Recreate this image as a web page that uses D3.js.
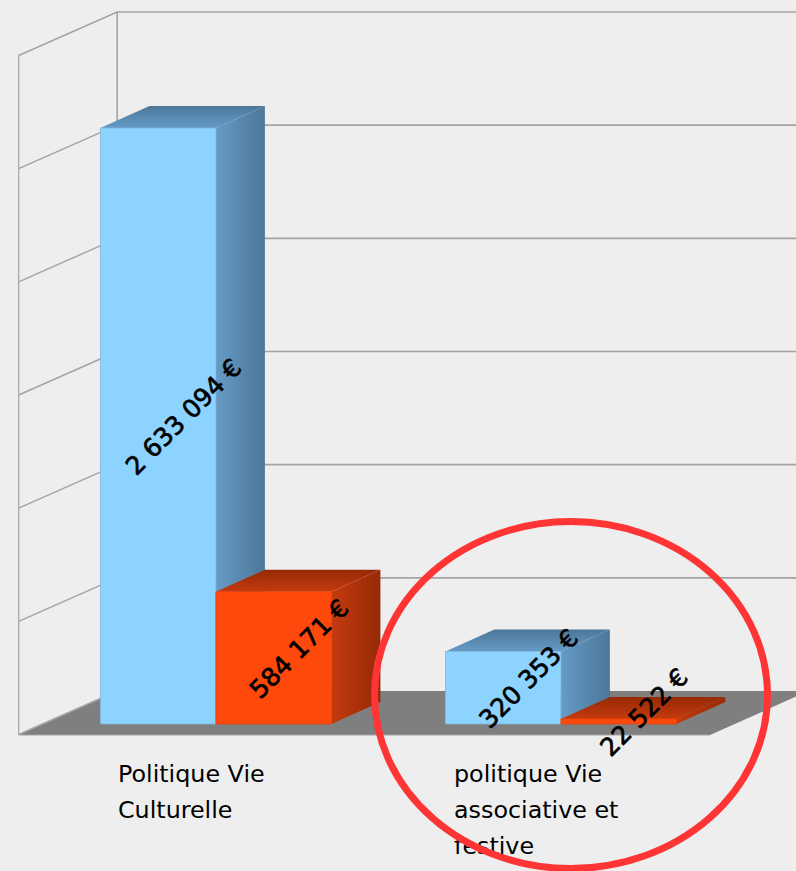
<!DOCTYPE html>
<html><head><meta charset="utf-8">
<script src="https://cdnjs.cloudflare.com/ajax/libs/d3/7.8.5/d3.min.js"></script>
<style>html,body{margin:0;padding:0;background:#eeeeee;overflow:hidden}svg{display:block}</style>
</head><body>
<svg id="c" width="796" height="871"></svg>
<script>
const categories = ["Politique Vie Culturelle", "politique Vie associative et festive"];
const categoryLines = [["Politique Vie", "Culturelle"], ["politique Vie", "associative et", "festive"]];
const seriesNames = ["s1", "s2"];
const series1 = [2633094, 320353];
const series2 = [584171, 22522];
const valueLabels = [["2 633 094 €", "584 171 €"], ["320 353 €", "22 522 €"]];
const gridTicks = [0, 500000, 1000000, 1500000, 2000000, 2500000, 3000000];

const W = 796, H = 871;
const svg = d3.select("#c");
const defs = svg.append("defs");
function grad(id, x2, y2, a, b) {
  const g = defs.append("linearGradient").attr("id", id).attr("x1", 0).attr("y1", 0).attr("x2", x2).attr("y2", y2);
  g.append("stop").attr("offset", 0).attr("stop-color", a);
  g.append("stop").attr("offset", 1).attr("stop-color", b);
}
grad("blueSide", 1, 0, "#669bc6", "#4c7798");
grad("blueTop", 0, 1, "#4c7798", "#669bc6");
grad("redSide", 1, 0, "#c53a0e", "#962a06");
grad("redTop", 0, 1, "#962a06", "#c53a0e");

const wallDX = 98.5, wallDY = 43.5;
const barDX = 49, barDY = 22;
const backLeft = 117.2, floorBack = 691, floorFrontY = 735, floorRight = 710;
const plotH = 679;
const yBack = d3.scaleLinear().domain([0, 3000000]).range([floorBack, floorBack - plotH]);
const yFront = d3.scaleLinear().domain([0, 3000000]).range([724, 724 - plotH]);
const x0 = d3.scaleBand().domain(categories).range([43.4, 733.4]);
const x1 = d3.scaleBand().domain(seriesNames).range([0, x0.bandwidth()]).paddingInner(0).paddingOuter(0.4935);

const gridColor = "#a3a3a3";
const path = pts => "M" + pts.map(p => p.join(",")).join("L") + "Z";

svg.append("path")
  .attr("d", path([[backLeft - wallDX, floorFrontY], [floorRight, floorFrontY], [floorRight + wallDX, floorBack], [backLeft, floorBack]]))
  .attr("fill", "#7f7f7f");

const grid = svg.append("g").attr("fill", "none").attr("stroke", gridColor);
grid.selectAll("line.back").data(gridTicks.slice(1)).join("line").attr("class", "back")
  .attr("x1", backLeft).attr("x2", W + 20)
  .attr("y1", d => yBack(d)).attr("y2", d => yBack(d)).attr("stroke-width", 1.6);
grid.selectAll("line.side").data(gridTicks).join("line").attr("class", "side")
  .attr("x1", backLeft - wallDX).attr("x2", backLeft)
  .attr("y1", d => yBack(d) + wallDY).attr("y2", d => yBack(d)).attr("stroke-width", 1.4);
grid.append("line").attr("x1", backLeft).attr("x2", backLeft).attr("y1", yBack(3000000)).attr("y2", floorBack).attr("stroke-width", 1.6);
grid.append("line").attr("x1", backLeft - wallDX).attr("x2", backLeft - wallDX)
  .attr("y1", yBack(3000000) + wallDY).attr("y2", floorFrontY).attr("stroke-width", 1.2);
grid.append("line").attr("x1", backLeft - wallDX).attr("x2", floorRight).attr("y1", floorFrontY).attr("y2", floorFrontY).attr("stroke-width", 1);

const palettes = [
  { front: "#8cd3ff", edge: "#7fb6dc", side: "url(#blueSide)", top: "url(#blueTop)" },
  { front: "#ff480b", edge: "#e8440f", side: "url(#redSide)", top: "url(#redTop)" }
];
const rows = categories.flatMap((c, i) => [
  { c, v: series1[i], s: 0, label: valueLabels[i][0] },
  { c, v: series2[i], s: 1, label: valueLabels[i][1] }
]);
const bars = svg.selectAll("g.bar").data(rows).join("g").attr("class", "bar");
bars.each(function (d) {
  const g = d3.select(this), p = palettes[d.s];
  const l = x0(d.c) + x1(seriesNames[d.s]), w = x1.bandwidth(), r = l + w;
  const t = yFront(d.v), b = yFront(0);
  g.append("path").attr("d", path([[r, t], [r + barDX, t - barDY], [r + barDX, b - barDY], [r, b]])).attr("fill", p.side);
  g.append("path").attr("d", path([[l, t], [r, t], [r + barDX, t - barDY], [l + barDX, t - barDY]])).attr("fill", p.top);
  g.append("rect").attr("x", l).attr("y", t).attr("width", w).attr("height", b - t)
    .attr("fill", p.front).attr("stroke", p.edge).attr("stroke-width", 0.8);
});

const font = '"DejaVu Sans", sans-serif';
svg.selectAll("text.val").data(rows).join("text").attr("class", "val")
  .attr("transform", d => {
    const cx = x0(d.c) + x1(seriesNames[d.s]) + x1.bandwidth() / 2 + barDX / 2;
    const cy = (yFront(d.v) + yFront(0)) / 2 - barDY / 2;
    return `translate(${cx + 1},${cy + 2}) rotate(-45)`;
  })
  .attr("text-anchor", "middle").attr("dominant-baseline", "central")
  .attr("font-family", font).attr("font-size", 25).attr("fill", "#000")
  .attr("stroke", "#000").attr("stroke-width", 0.7)
  .text(d => d.label);

const labelX = d3.scaleOrdinal().domain(categories).range([118, 454]);
const labels = svg.selectAll("text.cat").data(categories).join("text").attr("class", "cat")
  .attr("font-family", font).attr("font-size", 23.8).attr("fill", "#000");
labels.each(function (c, i) {
  d3.select(this).selectAll("tspan").data(categoryLines[i]).join("tspan")
    .attr("x", labelX(c)).attr("y", (d, j) => 782 + j * 36).text(d => d);
});

svg.append("ellipse").attr("cx", 571).attr("cy", 695).attr("rx", 196.5).attr("ry", 173.5)
  .attr("fill", "none").attr("stroke", "#ff3434").attr("stroke-width", 7);
</script>
</body></html>
